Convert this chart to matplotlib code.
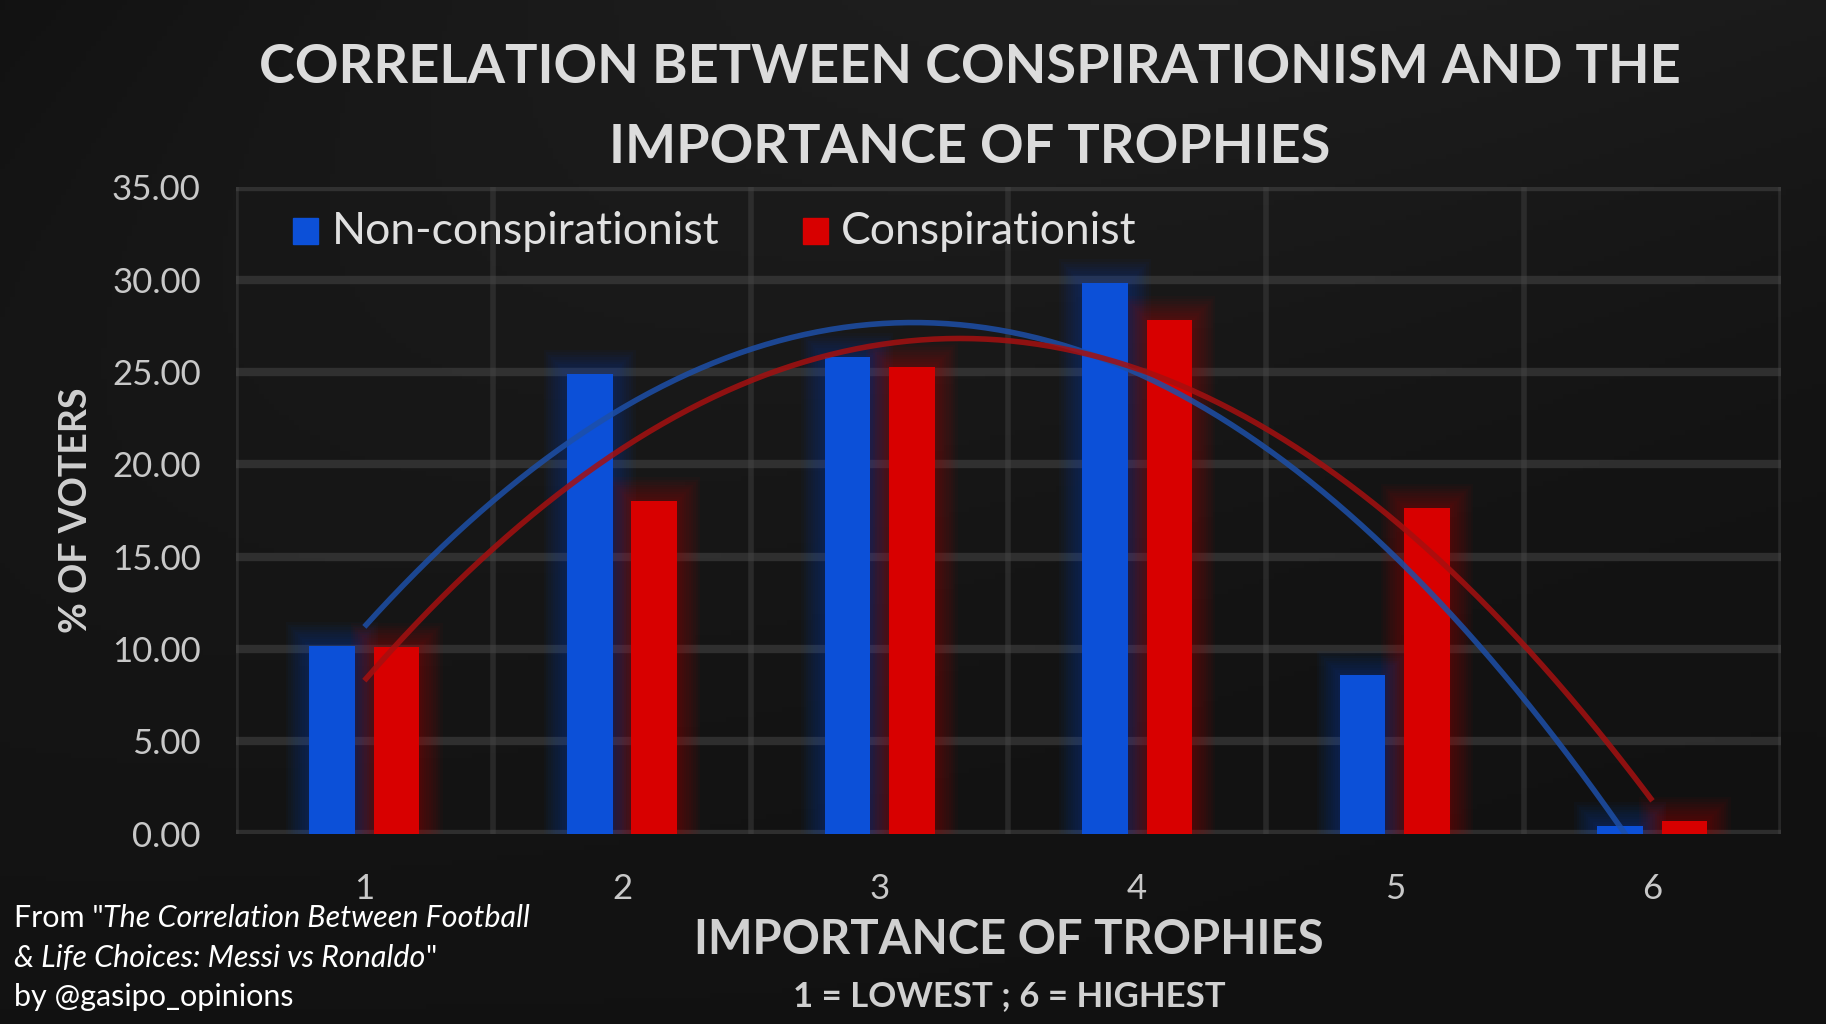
import numpy as np
import matplotlib
matplotlib.use("Agg")
import matplotlib.pyplot as plt

plt.rcParams['font.family'] = ['Lato', 'DejaVu Sans']

categories = ["1", "2", "3", "4", "5", "6"]
non_consp = [10.15, 24.9, 25.8, 29.8, 8.6, 0.4]
consp = [10.1, 18.0, 25.3, 27.8, 17.65, 0.7]
yticks = [0, 5, 10, 15, 20, 25, 30, 35]

BLUE = '#0c50d8'
RED = '#d80000'
TXT = '#d0d0d0'

fig = plt.figure(figsize=(18.26, 10.24), dpi=100)
fig.patch.set_facecolor('#0e0e0e')

# background gradient
bg = fig.add_axes([0, 0, 1, 1], zorder=-10)
gy, gx = np.mgrid[0:1:200j, 0:1:360j]
grad = 0.07 + 0.03 * np.sin(gx * 3.0 + gy * 2.0) * (1 - gy) + 0.03 * gx * (1 - gy)
bg.imshow(grad, cmap='gray', vmin=0, vmax=1, aspect='auto', extent=[0, 1, 0, 1])
bg.axis('off')

ax = fig.add_axes([0.129, 0.1857, 0.8465, 0.6313])
ax.set_facecolor('none')
x = np.arange(1, len(categories) + 1)
ax.set_xlim(0.5, 6.5)
ax.set_ylim(0, 35)

# grid
for yv in yticks:
    ax.axhline(yv, color='#4a4a4a', lw=6, alpha=0.5, zorder=1)
for xv in np.arange(0.5, 6.6, 1.0):
    ax.axvline(xv, color='#4a4a4a', lw=4, alpha=0.4, zorder=1)

w = 0.177
off = 0.125
for vals, col, sgn in [(non_consp, BLUE, -1), (consp, RED, 1)]:
    xs = x + sgn * off
    for k in range(1, 11):
        ax.bar(xs, np.array(vals) + 0.13 * k, width=w + 0.018 * k, bottom=0,
               color=col, alpha=0.035, lw=0, zorder=2)
    ax.bar(xs, vals, width=w, color=col, lw=0, zorder=3)

# polynomial (order 2) trendlines
xx = np.linspace(1, 6, 200)
for vals, col in [(non_consp, '#1d4fa8'), (consp, '#a51010')]:
    c = np.polyfit(x, vals, 2)
    ax.plot(xx, np.polyval(c, xx), color=col, lw=4, alpha=0.85, zorder=4,
            solid_capstyle='butt')

for s in ax.spines.values():
    s.set_visible(False)
ax.set_yticks(yticks)
ax.set_yticklabels([f"{v:.2f}" for v in yticks])
ax.set_xticks(x)
ax.set_xticklabels(categories)
ax.tick_params(length=0, colors='#c8c8c8', labelsize=25)
ax.tick_params(axis='y', pad=25)
ax.tick_params(axis='x', pad=28)

ax.set_ylabel('% OF VOTERS', color=TXT, fontsize=27, fontweight='bold', labelpad=14)

fig.text(0.531, 0.934, 'CORRELATION BETWEEN CONSPIRATIONISM AND THE', ha='center', va='center',
         color='#dcdcdc', fontsize=39, fontweight='bold')
fig.text(0.531, 0.856, 'IMPORTANCE OF TROPHIES', ha='center', va='center',
         color='#dcdcdc', fontsize=39, fontweight='bold')

fig.text(0.5525, 0.082, 'IMPORTANCE OF TROPHIES', ha='center', va='center',
         color=TXT, fontsize=34, fontweight='bold')
fig.text(0.5525, 0.027, '1 = LOWEST ; 6 = HIGHEST', ha='center', va='center',
         color=TXT, fontsize=25, fontweight='bold')

# legend
fig.patches.append(plt.Rectangle((0.1607, 0.762), 0.0135, 0.025, transform=fig.transFigure,
                                 color=BLUE, figure=fig))
fig.text(0.1815, 0.774, 'Non-conspirationist', ha='left', va='center', color='#e0e0e0', fontsize=32)
fig.patches.append(plt.Rectangle((0.440, 0.762), 0.0135, 0.025, transform=fig.transFigure,
                                 color=RED, figure=fig))
fig.text(0.4605, 0.774, 'Conspirationist', ha='left', va='center', color='#e0e0e0', fontsize=32)

# footnote
fs = 22
t1 = fig.text(0.0075, 0.095, 'From "', ha='left', va='baseline', color='white', fontsize=fs)
ax.annotate('The Correlation Between Football', xy=(1, 0), xycoords=t1, va='bottom', ha='left',
            color='white', fontsize=fs, style='italic', annotation_clip=False)
t2 = fig.text(0.0075, 0.056, '& Life Choices: Messi vs Ronaldo', ha='left', va='baseline',
              color='white', fontsize=fs, style='italic')
ax.annotate('"', xy=(1, 0), xycoords=t2, va='bottom', ha='left', color='white', fontsize=fs,
            annotation_clip=False)
fig.text(0.0075, 0.018, 'by @gasipo_opinions', ha='left', va='baseline', color='white', fontsize=fs)

fig.savefig('out.png', dpi=100, facecolor=fig.get_facecolor())
